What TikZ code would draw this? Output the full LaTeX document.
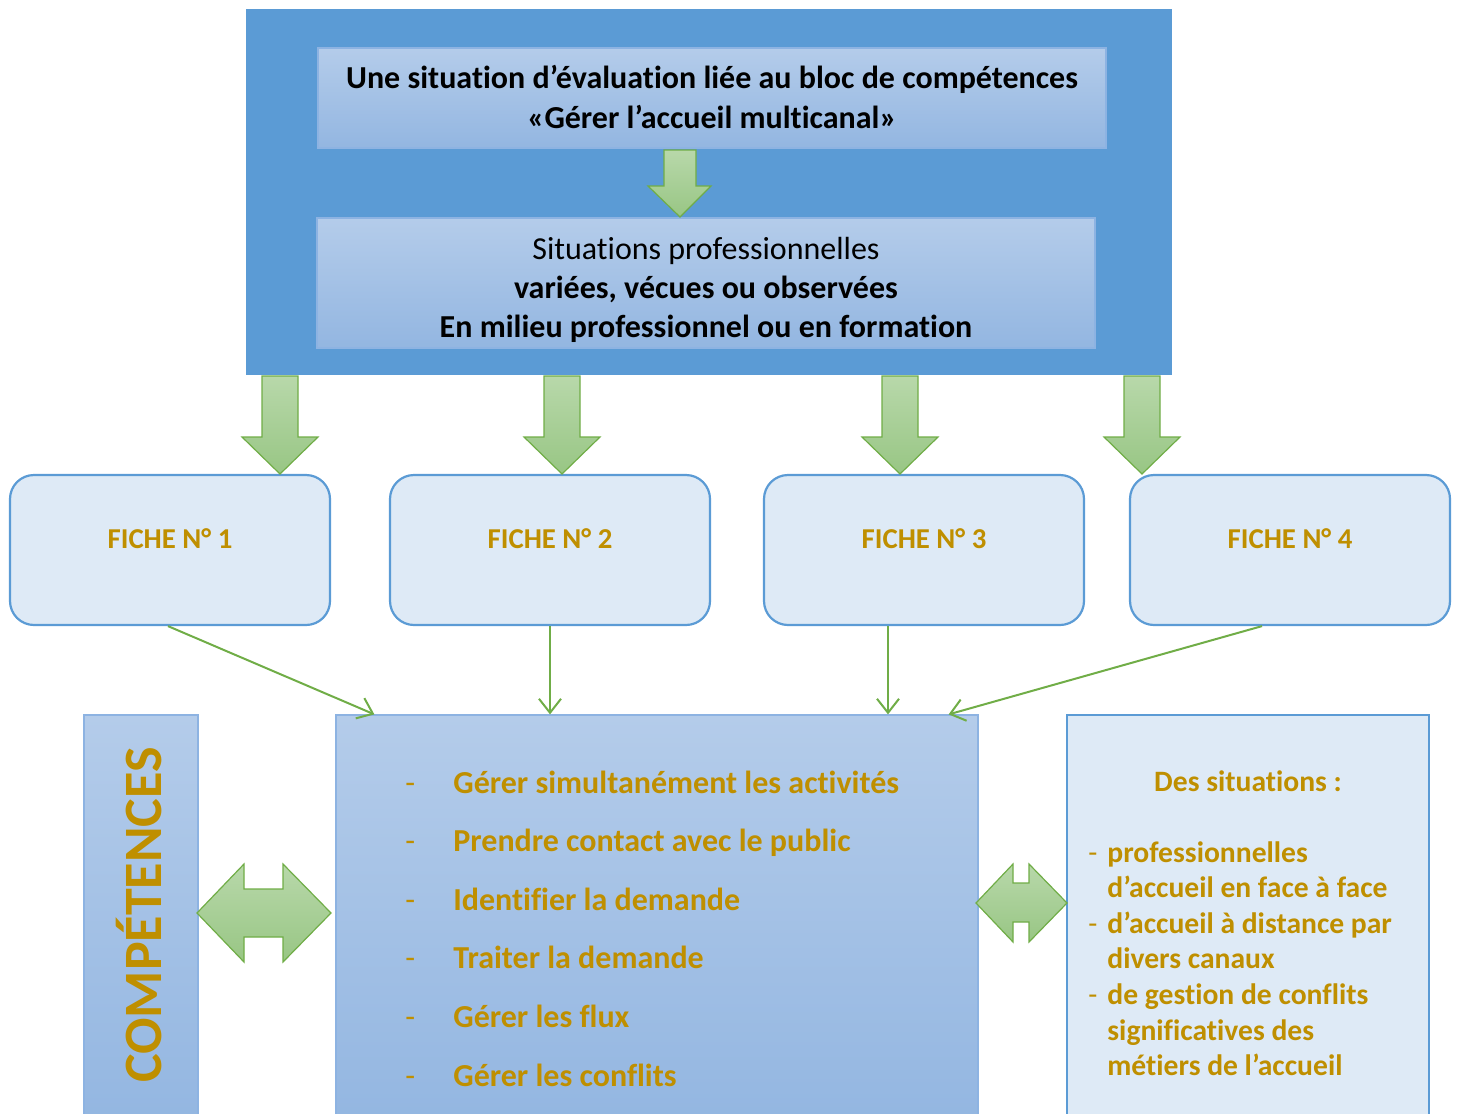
\documentclass[tikz,border=0pt]{standalone}
\usepackage{fontspec}
\setmainfont{Carlito}[Ligatures=NoCommon]
\usetikzlibrary{positioning,arrows.meta}

\definecolor{frameblue}{HTML}{5B9BD5}
\definecolor{boxtop}{HTML}{B4CCEA}
\definecolor{boxbot}{HTML}{93B6E1}
\definecolor{boxline}{HTML}{8DB3E2}
\definecolor{palebox}{HTML}{DEEAF6}
\definecolor{gold}{HTML}{BF8F00}
\definecolor{leaf}{HTML}{70AD47}
\definecolor{leaftop}{HTML}{B8D8AA}
\definecolor{leafbot}{HTML}{98C684}

\tikzset{
  frame/.style={rectangle, fill=frameblue, inner sep=0pt},
  gradbox/.style={rectangle, draw=boxline, line width=0.6pt, top color=boxtop, bottom color=boxbot, inner sep=0pt},
  headtext/.style={align=center, font=\bfseries\fontsize{16}{19.6}\selectfont},
  fiche/.style={rectangle, rounded corners=12pt, draw=frameblue, line width=1.1pt, fill=palebox,
    minimum width=160pt, minimum height=75pt, font=\bfseries\fontsize{14.4}{16}\selectfont, text=gold,
    text height=12pt, text depth=14pt},
  paleframe/.style={rectangle, draw=frameblue, line width=1.1pt, fill=palebox, inner sep=0pt},
  blockarrow/.style={draw=leaf, line width=0.6pt, top color=leaftop, bottom color=leafbot},
  link/.style={leaf, line width=1pt, -{Straight Barb[length=7pt, width=11pt]}},
  item/.style={anchor=base west, inner sep=0pt, text=gold, font=\bfseries\fontsize{16}{19}\selectfont},
  dashmark/.style={anchor=base west, inner sep=0pt, text=gold, font=\fontsize{16}{19}\selectfont},
  sitem/.style={anchor=base west, inner sep=0pt, text=gold, font=\bfseries\fontsize{14.8}{17}\selectfont},
}

\begin{document}
\begin{tikzpicture}[x=0.5pt, y=-0.5pt]
\useasboundingbox (0,0) rectangle (1459,1113);
\clip (0,0) rectangle (1459,1113);

% upper block
\node[frame, minimum width=463pt, minimum height=183pt] (frame) at (709,192) {};
\node[gradbox, minimum width=394pt, minimum height=50pt] (bloc) at (712,98) {};
\node[headtext] (bloctxt) at ([yshift=0.5pt]bloc.center) {Une situation d’évaluation liée au bloc de compétences\\«Gérer l’accueil multicanal»};
\node[gradbox, minimum width=389pt, minimum height=65pt] (pro) at (706,283) {};
\node[headtext] (protxt) at ([yshift=-3.5pt]pro.center) {\mdseries Situations professionnelles\\variées, vécues ou observées\\En milieu professionnel ou en formation};
\draw[blockarrow] (664,150) -- (664,186) -- (648,186) -- (680,217) -- (711,186) -- (696,186) -- (696,150) -- cycle;

% fiches
\node[fiche] (f1) at (170,550) {FICHE N°~1};
\node[fiche] (f2) at (550,550) {FICHE N°~2};
\node[fiche] (f3) at (924,550) {FICHE N°~3};
\node[fiche] (f4) at (1290,550) {FICHE N°~4};
\foreach \x in {280,562,900,1142}
  \draw[blockarrow] (\x-18,376) -- (\x-18,437) -- (\x-38,437) -- (\x,474) -- (\x+38,437) -- (\x+18,437) -- (\x+18,376) -- cycle;

% lower row
\node[gradbox, minimum width=57pt, minimum height=205pt] (comp) at (141,920) {};
\node[rotate=90, text=gold, font=\bfseries\fontsize{27}{30}\selectfont] (comptxt) at (139,915) {COMPÉTENCES};
\node[gradbox, minimum width=321pt, minimum height=205pt] (mid) at (657,920) {};
\node[paleframe, minimum width=181pt, minimum height=205pt] (sit) at (1248,920) {};

\draw[link] ([xshift=-1pt]f1.south) -- ([xshift=19.5pt]mid.north west);
\draw[link] (f2.south) -- (f2.south |- mid.north);
\draw[link] ([xshift=-18pt]f3.south) -- ([xshift=-18pt]f3.south |- mid.north);
\draw[link] ([xshift=-14pt]f4.south) -- ([xshift=-15pt]mid.north east);

\draw[blockarrow] (197,913) -- (244,864) -- (244,889) -- (283,889) -- (283,864) -- (331,913)
  -- (283,962) -- (283,937) -- (244,937) -- (244,962) -- cycle;
\draw[blockarrow] (976,903) -- (1013,864) -- (1013,883) -- (1029,883) -- (1029,864) -- (1067,903)
  -- (1029,942) -- (1029,922) -- (1013,922) -- (1013,942) -- cycle;

% competences
\foreach \t [count=\i from 0] in {Gérer simultanément les activités, Prendre contact avec le public,
  Identifier la demande, Traiter la demande, Gérer les flux, Gérer les conflits} {
  \node[dashmark] (d\i) at (405,793+58.6*\i) {-};
  \node[item] (c\i) at (453,793+58.6*\i) {\t};
}

% situations
\node[anchor=base, inner sep=0pt, text=gold, font=\bfseries\fontsize{14.8}{17}\selectfont] (sithead) at (1248,791) {Des situations :};
\foreach \t [count=\i from 0] in {professionnelles, d’accueil en face à face, d’accueil à distance par,
  divers canaux, de gestion de conflits, significatives des, métiers de l’accueil}
  \node[sitem] (s\i) at (1107,862+35.6*\i) {\t};
\foreach \i in {0,2,4}
  \node[sitem, font=\fontsize{14.8}{17}\selectfont] (sd\i) at (1088,862+35.6*\i) {-};
\end{tikzpicture}
\end{document}
